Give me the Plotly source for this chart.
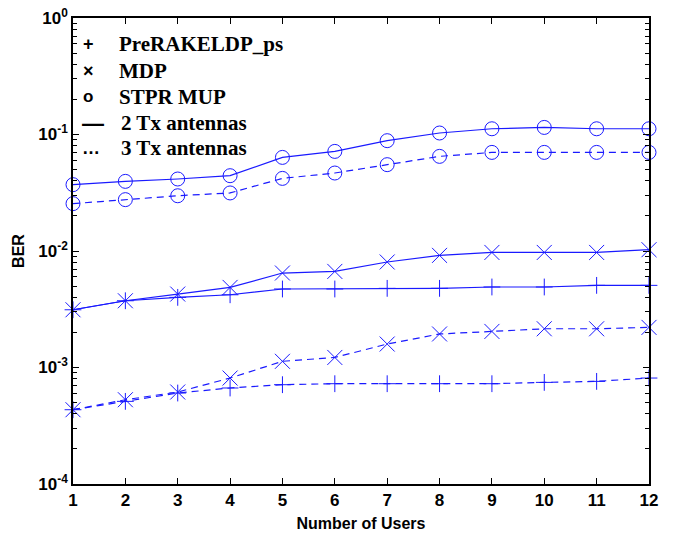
import plotly.graph_objects as go

# Number of users on the x axis
users = [1, 2, 3, 4, 5, 6, 7, 8, 9, 10, 11, 12]

# BER curves, 2 Tx antennas
prerake_2tx = [0.00313, 0.00374, 0.0040, 0.00421, 0.00472, 0.00472, 0.00478, 0.00478, 0.00491, 0.00491, 0.00507, 0.00507]
mdp_2tx = [0.00313, 0.00374, 0.00427, 0.00487, 0.00647, 0.00668, 0.00805, 0.00917, 0.00972, 0.00972, 0.00972, 0.01026]
stpr_2tx = [0.0371, 0.0396, 0.0415, 0.0443, 0.0636, 0.0716, 0.0885, 0.103, 0.112, 0.115, 0.112, 0.112]

# BER curves, 3 Tx antennas
prerake_3tx = [0.000434, 0.000512, 0.000604, 0.000667, 0.000712, 0.000726, 0.000726, 0.000726, 0.000726, 0.000745, 0.00076, 0.000812]
mdp_3tx = [0.000434, 0.000529, 0.000616, 0.000812, 0.00113, 0.00122, 0.00159, 0.00194, 0.00204, 0.00215, 0.00215, 0.00221]
stpr_3tx = [0.0255, 0.0276, 0.0298, 0.0315, 0.042, 0.0467, 0.0551, 0.0649, 0.0702, 0.0702, 0.0702, 0.0702]

y_tickvals = [1e-4, 1e-3, 1e-2, 1e-1, 1]
y_ticktext = ["10<sup>-4</sup>", "10<sup>-3</sup>", "10<sup>-2</sup>", "10<sup>-1</sup>", "10<sup>0</sup>"]

legend_symbols = ["+", "×", "o", "—", "…"]
legend_labels = ["PreRAKELDP_ps", "MDP", "STPR MUP", "2 Tx antennas", "3 Tx antennas"]

BLUE = "#1a1aff"
markers = {
    "plus": dict(symbol="cross-thin-open", size=12, line=dict(width=1, color=BLUE)),
    "x": dict(symbol="x-thin-open", size=15, line=dict(width=1, color=BLUE)),
    "o": dict(symbol="circle-open", size=14, line=dict(width=1, color=BLUE), color=BLUE),
}

fig = go.Figure()

series = [
    (stpr_3tx, "o", "7px,5px"),
    (stpr_2tx, "o", "solid"),
    (mdp_3tx, "x", "7px,5px"),
    (mdp_2tx, "x", "solid"),
    (prerake_3tx, "plus", "7px,5px"),
    (prerake_2tx, "plus", "solid"),
]
for vals, mk, dash in series:
    fig.add_trace(go.Scatter(
        x=users, y=vals, mode="lines+markers",
        line=dict(color=BLUE, width=1.2, dash=dash),
        marker=markers[mk], showlegend=False, cliponaxis=False,
    ))

# Plot area in pixels: x 73..649, y 18..484
L, R, T, B = 73, 649, 18, 484
W, H = R - L, B - T


def px(xp):
    return (xp - L) / W


def py(yp):
    return (B - yp) / H


sym_x = [88, 88, 88, 93, 91]
sym_size = [18, 18, 17, 22, 18]
lab_x = [117, 117, 117, 119, 119]
rows_y = [44, 71, 97, 123, 148]
for s, lab, sx, ss, lx, ry in zip(legend_symbols, legend_labels, sym_x, sym_size, lab_x, rows_y):
    fig.add_annotation(
        x=px(sx), y=py(ry), xref="paper", yref="paper", text=s, showarrow=False,
        xanchor="center", yanchor="middle",
        font=dict(family="Liberation Sans", size=ss, color="black", weight="bold"),
    )
    fig.add_annotation(
        x=px(lx), y=py(ry), xref="paper", yref="paper", text=lab, showarrow=False,
        xanchor="left", yanchor="middle",
        font=dict(family="Liberation Serif", size=21, color="black", weight="bold"),
    )

axis_font = dict(family="Liberation Sans", size=17, color="black", weight="bold")
title_font = dict(family="Liberation Sans", size=16, color="black", weight="bold")

fig.update_xaxes(
    range=[1, 12], tickvals=users, ticks="inside", ticklen=6, tickcolor="black",
    showline=True, linecolor="black", linewidth=1.5, mirror="allticks",
    showgrid=False, zeroline=False, tickfont=axis_font, automargin=False,
    title=dict(text="Number of Users", font=title_font, standoff=9),
)
fig.update_yaxes(
    type="log", range=[-4, 0], tickvals=y_tickvals, ticktext=y_ticktext,
    ticks="inside", ticklen=6, tickcolor="black",
    showline=True, linecolor="black", linewidth=1.5, mirror="allticks",
    showgrid=False, zeroline=False, tickfont=axis_font, automargin=False,
    minor=dict(ticks="inside", ticklen=4, tickcolor="black", dtick="D1", showgrid=False),
    title=dict(text="BER", font=title_font, standoff=10),
)

fig.update_layout(
    width=673, height=536,
    margin=dict(l=L, r=673 - R, t=T, b=536 - B),
    paper_bgcolor="white", plot_bgcolor="white",
)

fig.write_html("out.html")
